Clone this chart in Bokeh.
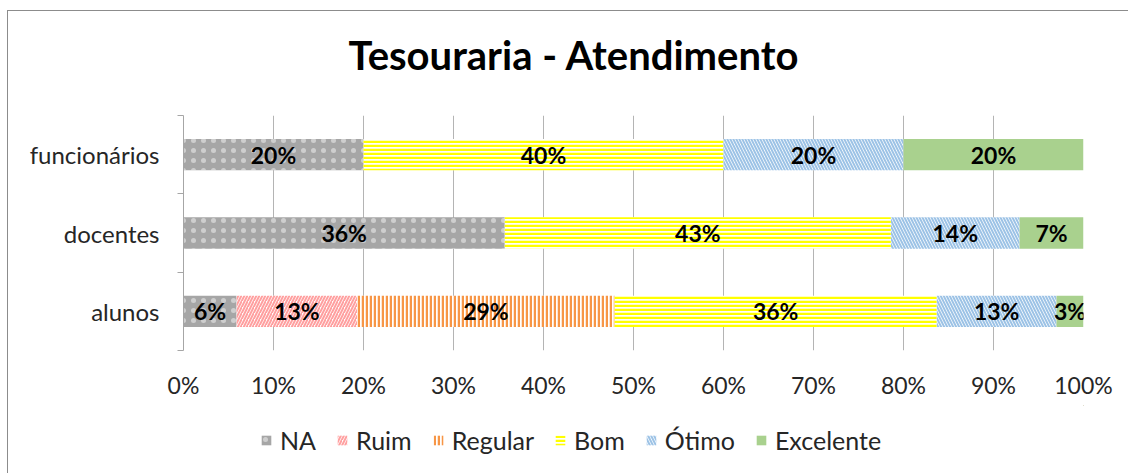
from bokeh.plotting import figure
from bokeh.layouts import column
from bokeh.models import ColumnDataSource, FixedTicker, Legend, LegendItem, Range1d
from bokeh.core.properties import value
from bokeh.embed import file_html
from bokeh.resources import INLINE

# ---- data ----
categories = ["alunos", "docentes", "funcionários"]
series = ["NA", "Ruim", "Regular", "Bom", "Ótimo", "Excelente"]
na = [5.9, 35.7, 20.0]
ruim = [13.4, 0.0, 0.0]
regular = [28.6, 0.0, 0.0]
bom = [35.8, 42.9, 40.0]
otimo = [13.3, 14.3, 20.0]
excelente = [3.0, 7.1, 20.0]
x_ticks = [0, 10, 20, 30, 40, 50, 60, 70, 80, 90, 100]
x_tick_labels = ["0%", "10%", "20%", "30%", "40%", "50%", "60%", "70%", "80%", "90%", "100%"]
title_text = "Tesouraria - Atendimento"

values = [na, ruim, regular, bom, otimo, excelente]

styles = [
    dict(fill_color="#a6a6a6", hatch_pattern="dot", hatch_color="white", hatch_alpha=0.45,
         hatch_scale=10, hatch_weight=1),
    dict(fill_color="white", hatch_pattern="right_diagonal_line", hatch_color="#ffa0a0", hatch_scale=6, hatch_weight=2),
    dict(fill_color="white", hatch_pattern="vertical_line", hatch_color="#f79646", hatch_scale=4, hatch_weight=2.5),
    dict(fill_color="white", hatch_pattern="horizontal_line", hatch_color="#ffff00", hatch_scale=4, hatch_weight=2.5),
    dict(fill_color="white", hatch_pattern="left_diagonal_line", hatch_color="#9dc3e6", hatch_scale=6, hatch_weight=2),
    dict(fill_color="#a9d18e"),
]

FONT = "Lato"
W = 1120
ypos = [i + 0.5 for i in range(len(categories))]

# ---- title strip ----
tp = figure(width=W, height=104, output_backend="svg", toolbar_location=None,
            x_axis_type=None, y_axis_type=None, x_range=Range1d(0, 1), y_range=Range1d(0, 1),
            min_border_left=175, min_border_right=45, min_border_top=0, min_border_bottom=0)
tp.outline_line_color = None
tp.xgrid.grid_line_color = None
tp.ygrid.grid_line_color = None
tp.title.text = title_text
tp.title.align = "left"
tp.title.offset = 165
tp.title.text_font = FONT
tp.title.text_font_style = "bold"
tp.title.text_font_size = "40px"
tp.title.text_color = "black"
tp.title.standoff = 35

# ---- main chart ----
p = figure(width=W, height=290, output_backend="svg", toolbar_location=None, title=None,
           x_range=Range1d(0, 100), y_range=Range1d(0, len(categories)),
           min_border_left=175, min_border_right=45, min_border_top=0, min_border_bottom=55)
p.outline_line_color = None
p.background_fill_color = "white"

sources = []
label_x, label_y, label_t = [], [], []
cum = [0.0] * len(categories)
for name, vals, st in zip(series, values, styles):
    lefts = list(cum)
    rights = [c + v for c, v in zip(cum, vals)]
    src = ColumnDataSource(dict(y=ypos, left=lefts, right=rights))
    sources.append(src)
    p.hbar(y="y", left="left", right="right", height=0.4, source=src, line_color=None, **st)
    for yy, l, v in zip(ypos, lefts, vals):
        if v > 0:
            label_x.append(l + v / 2)
            label_y.append(yy)
            label_t.append(f"{round(v)}%")
    cum = rights

p.text(x=label_x, y=label_y, text=label_t, text_align="center", text_baseline="middle",
       text_font=value(FONT), text_font_style="bold", text_font_size="23px", text_color="black")

p.xaxis.ticker = FixedTicker(ticks=x_ticks)
p.xaxis.major_label_overrides = {t: l for t, l in zip(x_ticks, x_tick_labels)}
p.xaxis.axis_line_color = None
p.xaxis.major_tick_line_color = None
p.xaxis.major_tick_out = 0
p.xaxis.major_tick_in = 0
p.xaxis.minor_tick_line_color = None
p.xaxis.major_label_standoff = 20
p.xaxis.major_label_text_font = FONT
p.xaxis.major_label_text_font_size = "23px"
p.xaxis.major_label_text_color = "#262626"

p.xgrid.ticker = FixedTicker(ticks=x_ticks)
p.xgrid.grid_line_color = "#b4b4b4"
p.ygrid.grid_line_color = None

p.yaxis.ticker = FixedTicker(ticks=ypos, minor_ticks=[float(i) for i in range(len(categories) + 1)])
p.yaxis.major_label_overrides = {y: c for y, c in zip(ypos, categories)}
p.yaxis.axis_line_color = "#a6a6a6"
p.yaxis.major_tick_line_color = None
p.yaxis.major_tick_out = 0
p.yaxis.major_tick_in = 0
p.yaxis.minor_tick_line_color = "#a6a6a6"
p.yaxis.minor_tick_out = 6
p.yaxis.minor_tick_in = 0
p.yaxis.major_label_standoff = 18
p.yaxis.major_label_text_font = FONT
p.yaxis.major_label_text_font_size = "24px"
p.yaxis.major_label_text_color = "#262626"

# ---- legend strip ----
# both ranges lie outside the data, so the proxy bars only lend their styles to the legend
lp = figure(width=W, height=68, output_backend="svg", toolbar_location=None, title=None,
            x_axis_type=None, y_axis_type=None, x_range=Range1d(-2, -1), y_range=Range1d(-2, -1),
            min_border_left=0, min_border_right=0, min_border_top=0, min_border_bottom=0)
lp.outline_line_color = None
lp.xgrid.grid_line_color = None
lp.ygrid.grid_line_color = None
items = []
for name, st, src in zip(series, styles, sources):
    r = lp.hbar(y="y", left="left", right="right", height=0.4, source=src, line_color=None, **st)
    items.append(LegendItem(label=name, renderers=[r]))
legend = Legend(items=items, orientation="horizontal", location=(77, 18),
                border_line_color=None, background_fill_alpha=0,
                label_text_font=FONT, label_text_font_size="25px", label_text_color="#262626",
                glyph_width=12, glyph_height=12, label_standoff=8, spacing=20,
                margin=0, padding=8)
lp.add_layout(legend, "center")

layout = column(tp, p, lp, spacing=0)
layout.styles = {"border-left": "1px solid #8c8c8c", "border-top": "1px solid #8c8c8c",
                 "margin-left": "7px", "margin-top": "10px"}

open("out.html", "w").write(file_html(layout, INLINE))
